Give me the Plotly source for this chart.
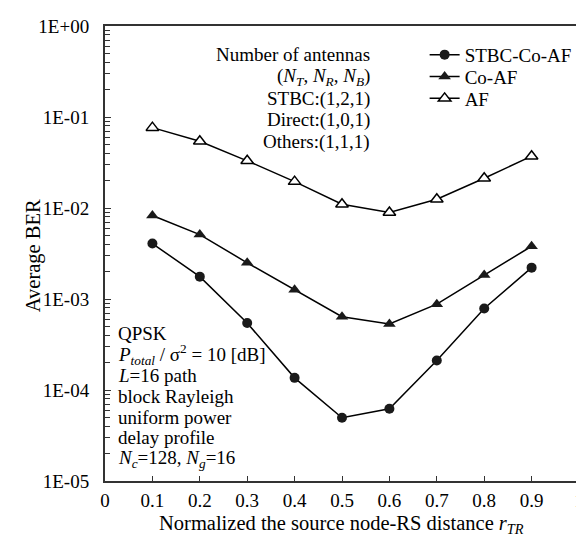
import plotly.graph_objects as go

x_vals = [0.1, 0.2, 0.3, 0.4, 0.5, 0.6, 0.7, 0.8, 0.9]
stbc_co_af = [0.00407, 0.00176, 0.000544, 0.000136, 4.96e-5, 6.22e-5, 0.000211, 0.000787, 0.00221]
co_af = [0.00828, 0.00510, 0.00250, 0.00126, 0.000638, 0.000531, 0.000877, 0.00183, 0.00380]
af = [0.0764, 0.0542, 0.0330, 0.0195, 0.0110, 0.00893, 0.0125, 0.0212, 0.0371]

y_tickvals = [1, 0.1, 0.01, 0.001, 0.0001, 0.00001]
y_ticktext = ["1E+00", "1E-01", "1E-02", "1E-03", "1E-04", "1E-05"]
x_tickvals = [0, 0.1, 0.2, 0.3, 0.4, 0.5, 0.6, 0.7, 0.8, 0.9, 1]
x_ticktext = ["0", "0.1", "0.2", "0.3", "0.4", "0.5", "0.6", "0.7", "0.8", "0.9", "1"]

antenna_lines = ["Number of antennas", "(<i>N<sub>T</sub></i>, <i>N<sub>R</sub></i>, <i>N<sub>B</sub></i>)",
                 "STBC:(1,2,1)", "Direct:(1,0,1)", "Others:(1,1,1)"]
cond_lines = ["QPSK", "<i>P<sub>total</sub></i> / σ<sup>2</sup> = 10 [dB]", "<i>L</i>=16 path",
              "block Rayleigh", "uniform power", "delay profile",
              "<i>N<sub>c</sub></i>=128, <i>N<sub>g</sub></i>=16"]
x_title = "Normalized the source node-RS distance <i>r</i><sub><i>TR</i></sub>"
y_title = "Average BER"

FONT = "Liberation Serif"
FS = 19
FS_TITLE = 20.5
W, H = 584, 536
L, R, T, B = 97, 8, 15, 63
pw, ph = W - L - R, H - T - B


def px2paper_x(px):
    return (px - L) / pw


def px2paper_y(py):
    return 1 - (py - T) / ph


fig = go.Figure()
fig.add_trace(go.Scatter(x=x_vals, y=stbc_co_af, name="STBC-Co-AF", mode="lines+markers",
                         line=dict(color="black", width=1.5), legend="legend",
                         marker=dict(symbol="circle", size=10, color="#1a1a1a")))
fig.add_trace(go.Scatter(x=x_vals, y=co_af, name="Co-AF", mode="lines+markers",
                         line=dict(color="black", width=1.5), legend="legend2",
                         marker=dict(symbol="triangle-up", size=11, color="#1a1a1a")))
fig.add_trace(go.Scatter(x=x_vals, y=af, name="AF", mode="lines+markers",
                         line=dict(color="black", width=1.5), legend="legend3",
                         marker=dict(symbol="triangle-up", size=11, color="white",
                                     line=dict(color="black", width=1.5))))

anns = []
for i, t in enumerate(antenna_lines):
    anns.append(dict(text=t, x=px2paper_x(367), y=px2paper_y(44 + 22 * i), xref="paper", yref="paper",
                     xanchor="right", yanchor="middle", showarrow=False,
                     font=dict(family=FONT, size=FS, color="black")))
for i, t in enumerate(cond_lines):
    anns.append(dict(text=t, x=px2paper_x(108), y=px2paper_y(325 + 20.9 * i), xref="paper", yref="paper",
                     xanchor="left", yanchor="middle", showarrow=False,
                     font=dict(family=FONT, size=FS, color="black")))
anns.append(dict(text=x_title, x=px2paper_x(336), y=px2paper_y(517), xref="paper", yref="paper",
                 xanchor="center", yanchor="middle", showarrow=False,
                 font=dict(family=FONT, size=FS_TITLE, color="black")))
anns.append(dict(text=y_title, x=px2paper_x(25), y=px2paper_y(246), xref="paper", yref="paper",
                 xanchor="center", yanchor="middle", showarrow=False, textangle=-90,
                 font=dict(family=FONT, size=FS_TITLE, color="black")))

leg_common = dict(xanchor="left", yanchor="middle", bgcolor="rgba(0,0,0,0)",
                  font=dict(family=FONT, size=FS, color="black"), itemwidth=30)

fig.update_layout(
    width=W, height=H,
    margin=dict(l=L, r=R, t=T, b=B),
    paper_bgcolor="white", plot_bgcolor="white",
    font=dict(family=FONT, size=FS, color="black"),
    showlegend=True,
    legend=dict(x=px2paper_x(420), y=px2paper_y(44), **leg_common),
    legend2=dict(x=px2paper_x(420), y=px2paper_y(66), **leg_common),
    legend3=dict(x=px2paper_x(420), y=px2paper_y(88), **leg_common),
    annotations=anns,
    xaxis=dict(range=[0, 1], tickvals=x_tickvals, ticktext=x_ticktext,
               ticks="inside", ticklen=5, tickcolor="#333", showgrid=False, zeroline=False,
               showline=True, mirror=True, linecolor="#333", linewidth=2,
               ticklabelstandoff=1,
               tickfont=dict(family=FONT, size=FS)),
    yaxis=dict(type="log", range=[-5, 0], tickvals=y_tickvals, ticktext=y_ticktext,
               ticks="inside", ticklen=6, tickcolor="#333", showgrid=False, zeroline=False,
               showline=True, mirror=True, linecolor="#333", linewidth=2,
               ticklabelstandoff=10,
               minor=dict(ticks="inside", ticklen=5, tickcolor="#333", showgrid=False,
                          tickvals=[m * 10 ** e for e in range(-5, 0) for m in range(2, 10)]),
               tickfont=dict(family=FONT, size=FS)),
)

fig.write_html("out.html")
